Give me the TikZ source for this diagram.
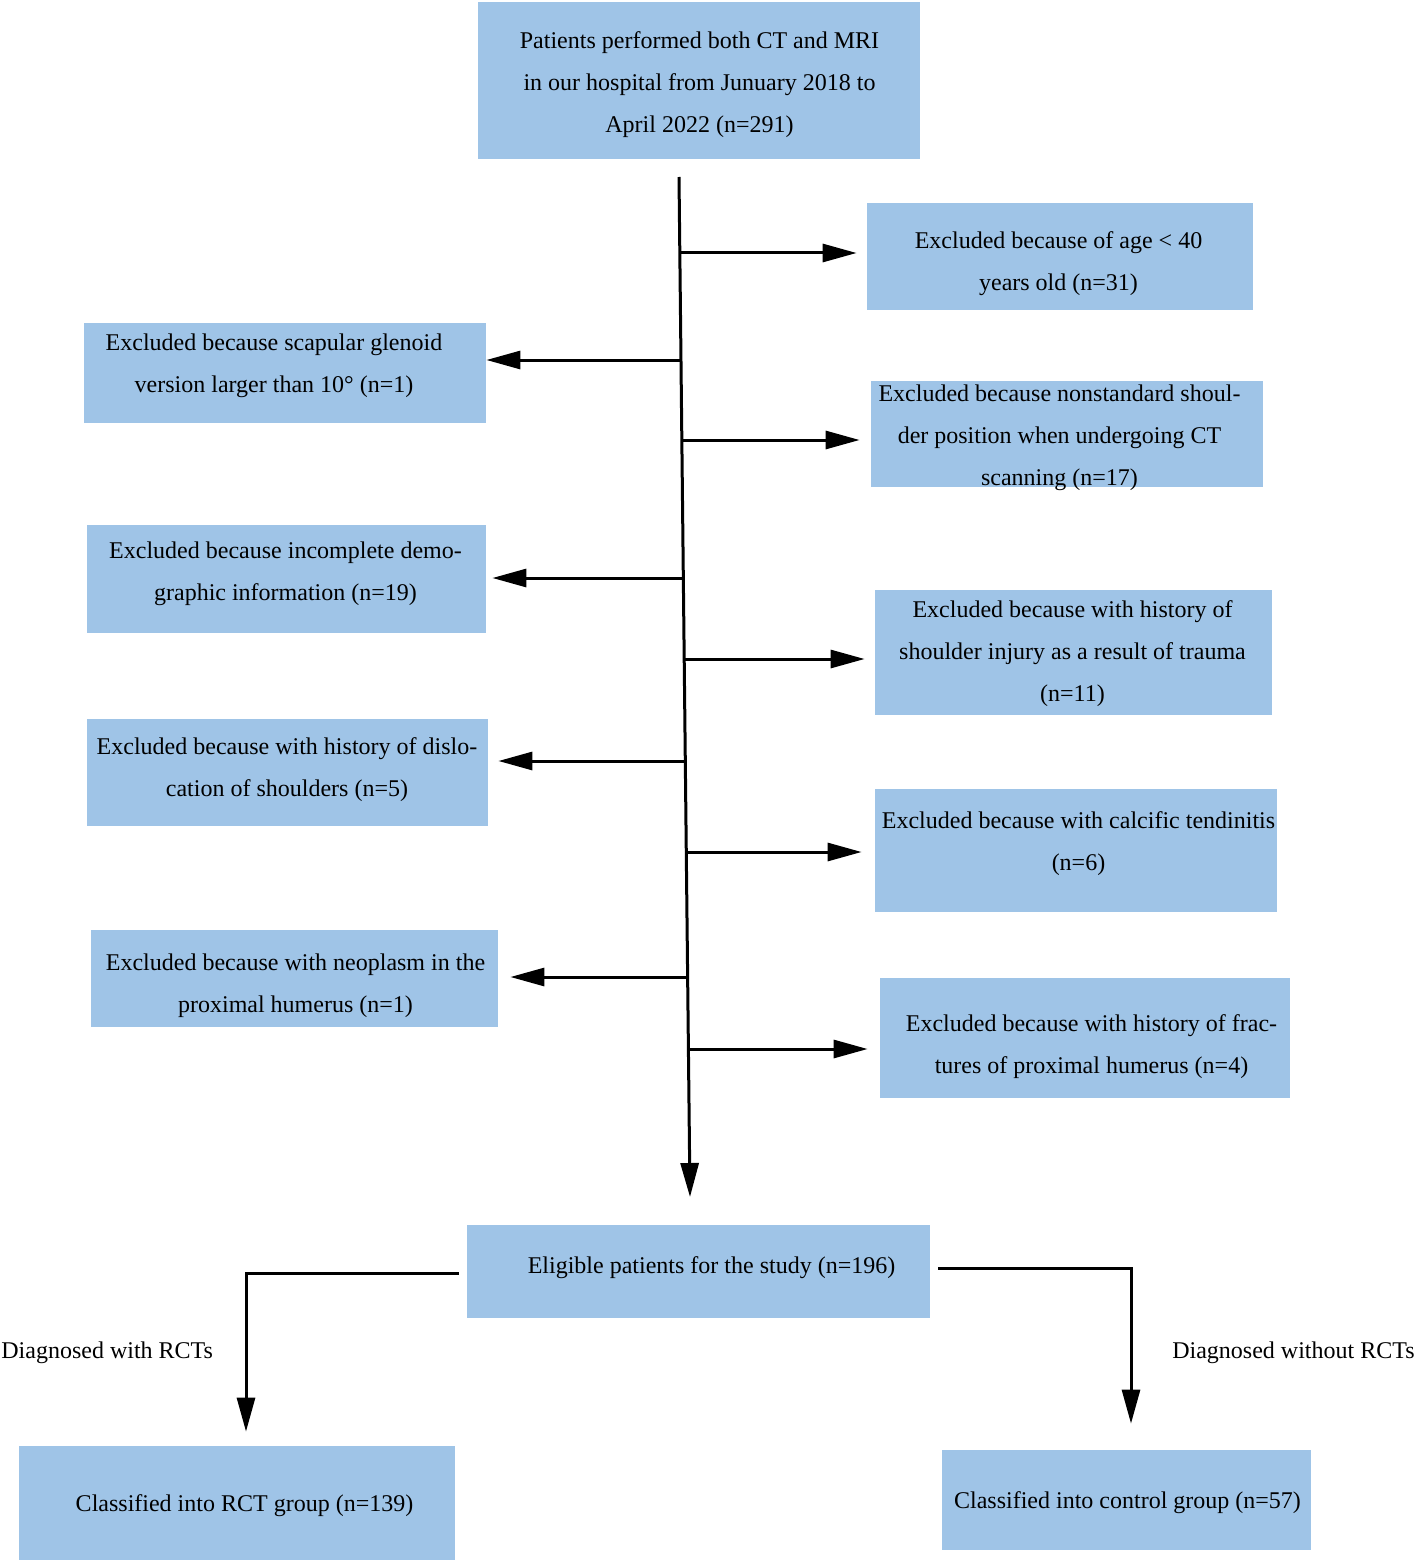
\documentclass[tikz,border=0pt]{standalone}
\usepackage{fontspec}
\setmainfont{Liberation Serif}
\usepackage{tikz}
\usetikzlibrary{arrows.meta, positioning}
\definecolor{boxblue}{RGB}{159,196,231}

\begin{document}
\begin{tikzpicture}[x=0.5pt, y=-0.5pt]
\tikzstyle{box} = [rectangle, fill=boxblue, inner sep=0pt]
\tikzstyle{txt} = [inner sep=0pt, align=center, font=\fontsize{12}{21}\selectfont]
\tikzstyle{line} = [line width=1.5pt]
\tikzstyle{arrow} = [line width=1.5pt, -{Triangle[length=17pt, width=9pt]}]

\useasboundingbox (0,0) rectangle (1416,1562);

% boxes
\node[box, minimum width=221pt, minimum height=78.5pt] (patients) at (699,80.5) {};
\node[box, minimum width=193pt, minimum height=53.5pt] (age) at (1060,256.5) {};
\node[box, minimum width=201pt, minimum height=50pt] (glenoid) at (285,373) {};
\node[box, minimum width=196pt, minimum height=53pt] (position) at (1067,434) {};
\node[box, minimum width=199.5pt, minimum height=54pt] (demographic) at (286.5,579) {};
\node[box, minimum width=198.5pt, minimum height=62.5pt] (trauma) at (1073.5,652.5) {};
\node[box, minimum width=200.5pt, minimum height=53.5pt] (dislocation) at (287.5,772.5) {};
\node[box, minimum width=201pt, minimum height=61.5pt] (calcific) at (1076,850.5) {};
\node[box, minimum width=203.5pt, minimum height=48.5pt] (neoplasm) at (294.5,978.5) {};
\node[box, minimum width=205pt, minimum height=60pt] (fracture) at (1085,1038) {};
\node[box, minimum width=231.5pt, minimum height=46.5pt] (eligible) at (698.5,1271.5) {};
\node[box, minimum width=218pt, minimum height=57pt] (rctgroup) at (237,1503) {};
\node[box, minimum width=184.5pt, minimum height=50pt] (controlgroup) at (1126.5,1500) {};

% box texts
\node[txt] (patientstext) at (699.5,84.5) {Patients performed both CT and MRI\\in our hospital from Junuary 2018 to\\April 2022 (n=291)};
\node[txt] (agetext) at (1058.5,263.5) {Excluded because of age < 40\\years old (n=31)};
\node[txt] (glenoidtext) at (274,365.5) {Excluded because scapular glenoid\\version larger than 10° (n=1)};
\node[txt] (positiontext) at (1059.5,437.5) {Excluded because nonstandard shoul-\\der position when undergoing CT\\scanning (n=17)};
\node[txt] (demographictext) at (285.5,573.5) {Excluded because incomplete demo-\\graphic information (n=19)};
\node[txt] (traumatext) at (1072.5,653.5) {Excluded because with history of\\shoulder injury as a result of trauma\\(n=11)};
\node[txt] (dislocationtext) at (287,769.5) {Excluded because with history of dislo-\\cation of shoulders (n=5)};
\node[txt] (calcifictext) at (1078.5,843.5) {Excluded because with calcific tendinitis\\(n=6)};
\node[txt] (neoplasmtext) at (295.5,985.5) {Excluded because with neoplasm in the\\proximal humerus (n=1)};
\node[txt] (fracturetext) at (1091.5,1046.5) {Excluded because with history of frac-\\tures of proximal humerus (n=4)};
\node[txt] (eligibletext) at (711.5,1267.5) {Eligible patients for the study (n=196)};
\node[txt] (rctgrouptext) at (244.5,1505.5) {Classified into RCT group (n=139)};
\node[txt] (controlgrouptext) at (1127.5,1502.5) {Classified into control group (n=57)};

\node[txt, anchor=west] (withrct) at (1,1352.5) {Diagnosed with RCTs};
\node[txt, anchor=east] (withoutrct) at (1415,1352.5) {Diagnosed without RCTs};

% main trunk
\coordinate (trunktop) at (679,177);
\coordinate (trunkend) at (690,1197);
\draw [arrow] (trunktop) -- (trunkend);

% exclusions
\coordinate (b1) at (680,253);
\coordinate (b2) at (681,360);
\coordinate (b3) at (683,440);
\coordinate (b4) at (683,578);
\coordinate (b5) at (685,659);
\coordinate (b6) at (686,761);
\coordinate (b7) at (688,852);
\coordinate (b8) at (688,977);
\coordinate (b9) at (688,1049);
\draw [arrow, shorten >=5pt] (b1) -- (b1 -| age.west);
\draw [arrow] (b2) -- (b2 -| glenoid.east);
\draw [arrow, shorten >=5.5pt] (b3) -- (b3 -| position.west);
\draw [arrow, shorten >=3pt] (b4) -- (b4 -| demographic.east);
\draw [arrow, shorten >=5pt] (b5) -- (b5 -| trauma.west);
\draw [arrow, shorten >=5pt] (b6) -- (b6 -| dislocation.east);
\draw [arrow, shorten >=6.5pt] (b7) -- (b7 -| calcific.west);
\draw [arrow, shorten >=6pt] (b8) -- (b8 -| neoplasm.east);
\draw [arrow, shorten >=6pt] (b9) -- (b9 -| fracture.west);

% groups
\draw [arrow] ([xshift=-4pt, yshift=-0.75pt]eligible.west) -| ([xshift=4.5pt, yshift=7pt]rctgroup.north);
\draw [arrow] ([xshift=4pt, yshift=1.75pt]eligible.east) -| ([xshift=2.25pt, yshift=13pt]controlgroup.north);
\end{tikzpicture}
\end{document}
